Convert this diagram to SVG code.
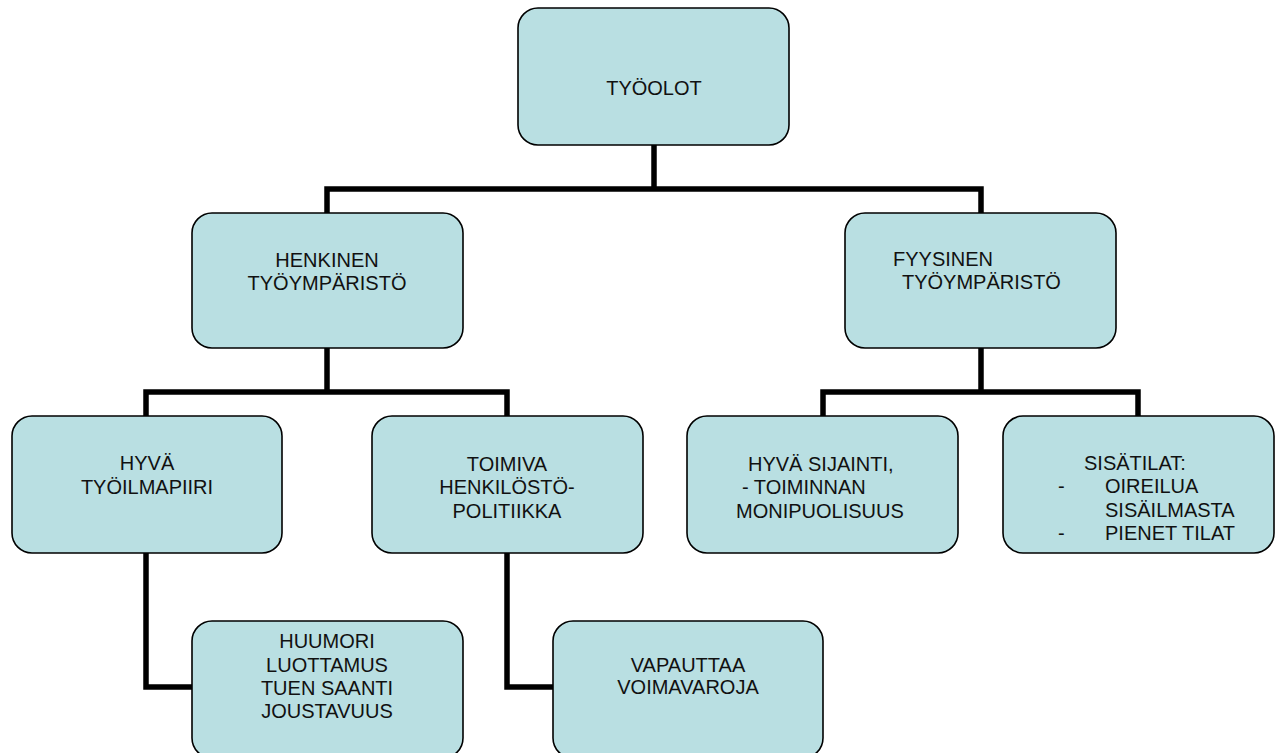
<svg xmlns="http://www.w3.org/2000/svg" width="1283" height="753" viewBox="0 0 1283 753">
  <style>
    .box { fill: #b9dfe2; stroke: #000; stroke-width: 1.6; }
    .lbl { font-family: "Liberation Sans", Arial, sans-serif; font-size: 20px; fill: #111; }
    .mid { text-anchor: middle; }
    .wire { fill: none; stroke: #000; stroke-width: 5.5; stroke-linejoin: miter; stroke-linecap: butt; }
  </style>
  <rect width="1283" height="753" fill="#fff"/>

  <g id="connectors">
    <path class="wire" d="M654 145 V189"/>
    <path class="wire" d="M327 213 V189 H981 V213"/>
    <path class="wire" d="M327 348 V392"/>
    <path class="wire" d="M146 416 V392 H507 V416"/>
    <path class="wire" d="M981 348 V392"/>
    <path class="wire" d="M823 416 V392 H1138 V416"/>
    <path class="wire" d="M146 553 V687 H192"/>
    <path class="wire" d="M507 553 V687 H553"/>
  </g>

  <g id="tyoolot">
    <rect class="box" x="518" y="8" width="271" height="137" rx="20"/>
    <text class="lbl mid" x="654" y="95">TYÖOLOT</text>
  </g>

  <g id="henkinen">
    <rect class="box" x="192" y="213" width="271" height="135" rx="20"/>
    <text class="lbl mid" x="327" y="267">HENKINEN</text>
    <text class="lbl mid" x="327" y="290">TYÖYMPÄRISTÖ</text>
  </g>

  <g id="fyysinen">
    <rect class="box" x="845" y="213" width="271" height="135" rx="20"/>
    <text class="lbl" x="893" y="266">FYYSINEN</text>
    <text class="lbl" x="902" y="289">TYÖYMPÄRISTÖ</text>
  </g>

  <g id="tyoilmapiiri">
    <rect class="box" x="12" y="416" width="270" height="137" rx="20"/>
    <text class="lbl mid" x="147" y="470">HYVÄ</text>
    <text class="lbl mid" x="147" y="494">TYÖILMAPIIRI</text>
  </g>

  <g id="henkilostopolitiikka">
    <rect class="box" x="372" y="416" width="271" height="137" rx="20"/>
    <text class="lbl mid" x="507" y="471">TOIMIVA</text>
    <text class="lbl mid" x="507" y="494">HENKILÖSTÖ-</text>
    <text class="lbl mid" x="507" y="518">POLITIIKKA</text>
  </g>

  <g id="sijainti">
    <rect class="box" x="687" y="416" width="271" height="137" rx="20"/>
    <text class="lbl" x="748" y="471">HYVÄ SIJAINTI,</text>
    <text class="lbl" x="742" y="494">- TOIMINNAN</text>
    <text class="lbl" x="736" y="518">MONIPUOLISUUS</text>
  </g>

  <g id="sisatilat">
    <rect class="box" x="1003" y="416" width="271" height="137" rx="20"/>
    <text class="lbl" x="1084" y="470">SISÄTILAT:</text>
    <text class="lbl" x="1058" y="493">-</text>
    <text class="lbl" x="1105" y="493">OIREILUA</text>
    <text class="lbl" x="1105" y="517">SISÄILMASTA</text>
    <text class="lbl" x="1058" y="540">-</text>
    <text class="lbl" x="1105" y="540">PIENET TILAT</text>
  </g>

  <g id="ilmapiiri-tekijat">
    <rect class="box" x="192" y="621" width="271" height="137" rx="20"/>
    <text class="lbl mid" x="327" y="648">HUUMORI</text>
    <text class="lbl mid" x="327" y="672">LUOTTAMUS</text>
    <text class="lbl mid" x="327" y="695">TUEN SAANTI</text>
    <text class="lbl mid" x="327" y="718">JOUSTAVUUS</text>
  </g>

  <g id="voimavarat">
    <rect class="box" x="553" y="621" width="270" height="137" rx="20"/>
    <text class="lbl mid" x="688" y="672">VAPAUTTAA</text>
    <text class="lbl mid" x="688" y="694">VOIMAVAROJA</text>
  </g>
</svg>
